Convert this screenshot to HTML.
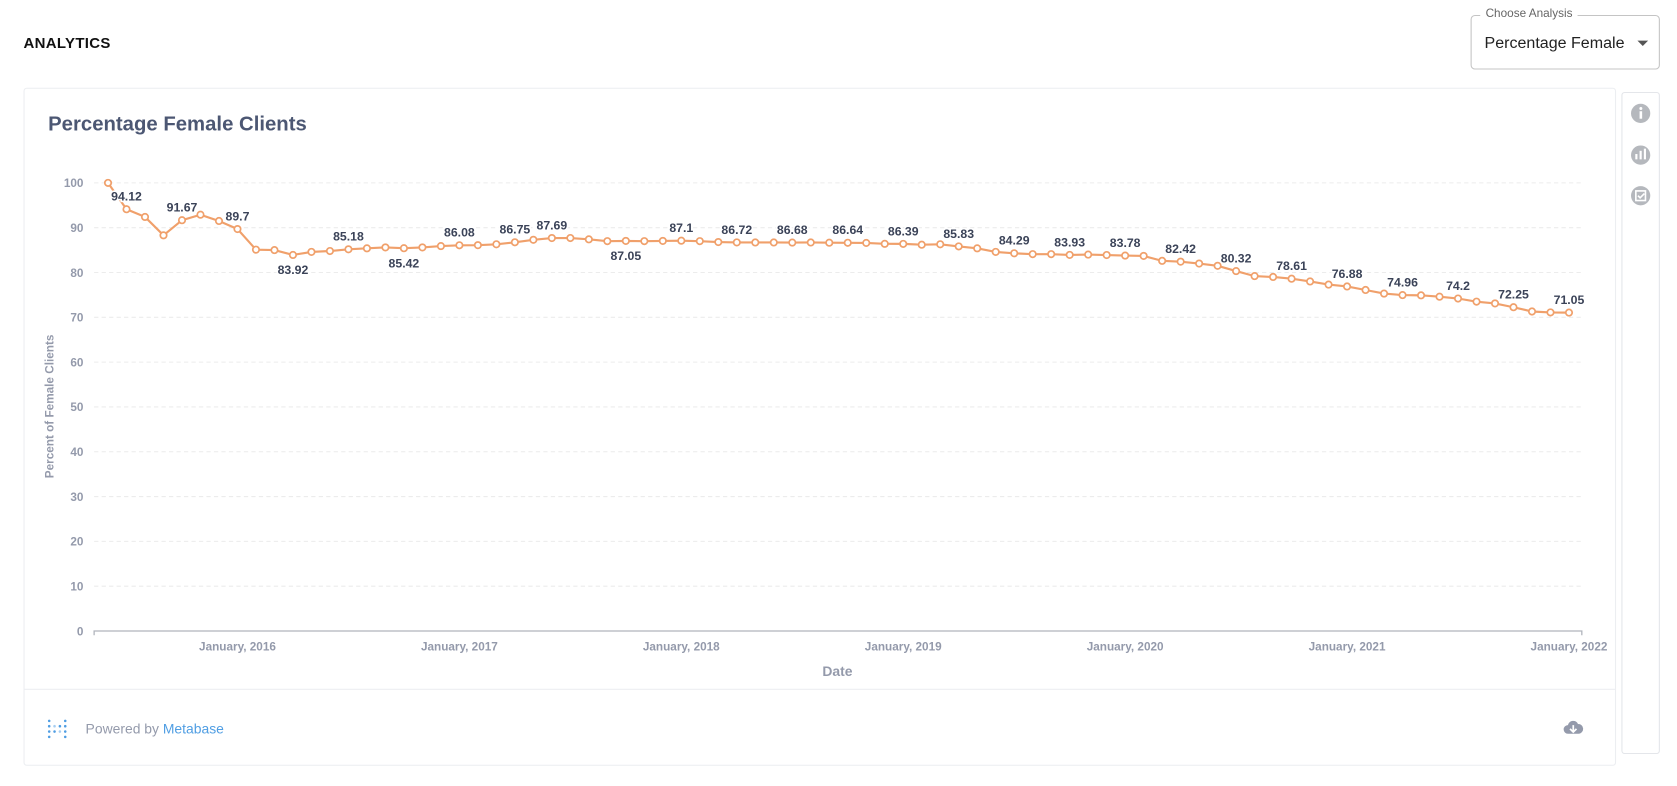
<!DOCTYPE html>
<html><head><meta charset="utf-8">
<style>
html,body{margin:0;padding:0;background:#fff;overflow:hidden;width:1677px;height:786px}
#wrap{position:absolute;left:0;top:0;width:1568px;height:735px;transform:scale(1.06952);transform-origin:0 0;font-family:"Liberation Sans",sans-serif}
.abs{position:absolute}
</style></head>
<body>
<div id="wrap">
  <div class="abs" style="left:22px;top:32px;font-size:14px;font-weight:bold;color:#111;letter-spacing:0.3px">ANALYTICS</div>
  <div class="abs" style="left:1375px;top:14px;width:177px;height:51px;border:1px solid #c4c4c4;border-radius:4px;box-sizing:border-box">
    <div class="abs" style="left:8px;top:-8px;background:#fff;padding:0 5px;font-size:11px;color:#666">Choose Analysis</div>
    <div class="abs" style="left:12px;top:17px;font-size:15px;color:#222">Percentage Female</div>
    <div class="abs" style="left:155px;top:23px;width:0;height:0;border-left:5px solid transparent;border-right:5px solid transparent;border-top:5px solid #555"></div>
  </div>
  <div class="abs" style="left:22px;top:82px;width:1489px;height:634px;border:1px solid #eceef1;box-sizing:border-box;border-radius:3px"></div>
  <div class="abs" style="left:22px;top:644px;width:1489px;height:1px;background:#eceef1"></div>
  <div class="abs" style="left:1516px;top:86px;width:36px;height:619px;border:1px solid #e4e6ea;box-sizing:border-box;border-radius:3px"></div>
  <svg class="abs" style="left:1524px;top:96px" width="22" height="100">
    <g><circle cx="10" cy="10" r="9" fill="#b5b8bd"/><rect x="9" y="8" width="2.4" height="7" fill="#fff"/><circle cx="10.2" cy="5.5" r="1.4" fill="#fff"/></g>
    <g><circle cx="10" cy="49" r="9" fill="#b5b8bd"/><rect x="5" y="48" width="2" height="5" fill="#fff"/><rect x="9" y="45" width="2" height="8" fill="#fff"/><rect x="13" y="43" width="2" height="10" fill="#fff"/></g>
    <g><circle cx="10" cy="87" r="9" fill="#b5b8bd"/><rect x="5.5" y="82.5" width="9" height="9" fill="none" stroke="#fff" stroke-width="1.5"/><path d="M7.5 87l2 2 4-4" stroke="#fff" stroke-width="1.5" fill="none"/></g>
  </svg>
  <div class="abs" style="left:45px;top:106px;font-size:19px;font-weight:bold;color:#4c5773">Percentage Female Clients</div>
  <svg id="chart" class="abs" style="left:0;top:0" width="1568" height="735"></svg>
  <svg class="abs" style="left:44px;top:672px" width="22" height="20">
    <g fill="#509ee3">
      <circle cx="2" cy="2" r="1.2"/><circle cx="2" cy="7" r="1.2"/><circle cx="2" cy="12" r="1.2"/><circle cx="2" cy="17" r="1.2"/>
      <circle cx="7" cy="7" r="1.2" opacity=".5"/><circle cx="7" cy="12" r="1.2"/><circle cx="12" cy="12" r="1.2" opacity=".5"/><circle cx="12" cy="7" r="1.2"/>
      <circle cx="17" cy="2" r="1.2"/><circle cx="17" cy="7" r="1.2"/><circle cx="17" cy="12" r="1.2"/><circle cx="17" cy="17" r="1.2"/>
    </g>
  </svg>
  <div class="abs" style="left:80px;top:674px;font-size:13px;color:#949aab">Powered by <span style="color:#509ee3">Metabase</span></div>
  <svg class="abs" style="left:1461px;top:672px" width="20" height="18">
    <path d="M5 14a4 4 0 0 1 0-8 5 5 0 0 1 9.5-1A4 4 0 0 1 15 14z" fill="#949aab"/><path d="M10 6v6M7 9.5l3 3 3-3" stroke="#fff" stroke-width="1.6" fill="none"/>
  </svg>
</div>
<script>
const values = [100,94.12,92.4,88.3,91.67,92.9,91.5,89.7,85.1,85.0,83.92,84.6,84.8,85.18,85.4,85.6,85.42,85.6,85.9,86.08,86.1,86.3,86.75,87.3,87.69,87.7,87.4,87.0,87.05,87.0,87.05,87.1,
87.0,86.8,86.72,86.7,86.7,86.68,86.7,86.65,86.64,86.6,86.4,86.39,86.2,86.3,85.83,85.4,84.6,84.29,84.1,84.1,83.93,84.0,83.9,83.78,83.7,82.6,82.42,82.0,81.5,80.32,79.2,79.0,78.61,78.0,77.3,76.88,76.1,75.3,74.96,74.9,74.6,74.2,73.5,73.1,72.25,71.3,71.1,71.05];
const startMonth = [2015, 5]; // June 2015 (month index 5)
const labelIdx = [1,4,7,10,13,16,19,22,24,28,31,34,37,40,43,46,49,52,55,58,61,64,67,70,73,76,79];
const labelBelowIdx = [10,16,28];
const yTicks = [0,10,20,30,40,50,60,70,80,90,100];
const xTickYears = [2016,2017,2018,2019,2020,2021,2022];

const svg = document.getElementById('chart');
const NS = 'http://www.w3.org/2000/svg';
const X0 = 88, X1 = 1479, Y0 = 590, Y100 = 171;
const pxPerMonth = (1467-101)/79;
const monthIdx = (y,m)=> (y-startMonth[0])*12 + (m-startMonth[1]);
const xScale = mi => 101 + mi*pxPerMonth;
const yScale = v => Y0 - (v/100)*(Y0-Y100);
function mk(tag, attrs){const e=document.createElementNS(NS,tag);for(const k in attrs)e.setAttribute(k,attrs[k]);svg.appendChild(e);return e;}

yTicks.forEach(t=>{
  const y=yScale(t);
  if(t>0){const g=mk('line',{x1:X0,x2:X1,y1:y,y2:y,stroke:'#ececec','stroke-dasharray':'4 3'});
  
  }
  const tx=mk('text',{x:78,y:y+4,'text-anchor':'end','font-size':'11','font-weight':'bold',fill:'#949aab','font-family':'Liberation Sans, sans-serif'});
  tx.textContent=t;
  
  
});
const ax=mk('path',{d:`M${X0} ${Y0+4}V${Y0}H${X1}V${Y0+4}`,stroke:'#b0b4bc',fill:'none','stroke-width':'1.2'});


xTickYears.forEach(yr=>{
  const x=xScale(monthIdx(yr,0));
  const tx=mk('text',{x:x,y:608,'text-anchor':'middle','font-size':'11','font-weight':'bold',fill:'#949aab','font-family':'Liberation Sans, sans-serif'});
  tx.textContent='January, '+yr;
  
  
});
const xt=mk('text',{x:783,y:632,'text-anchor':'middle','font-size':'13','font-weight':'bold',fill:'#949aab','font-family':'Liberation Sans, sans-serif'});
xt.textContent='Date';


const yt=mk('text',{x:0,y:0,transform:'translate(50,380) rotate(-90)','text-anchor':'middle','font-size':'11','font-weight':'bold',fill:'#949aab','font-family':'Liberation Sans, sans-serif'});
yt.textContent='Percent of Female Clients';



const pts=values.map((v,i)=>[xScale(i),yScale(v)]);
const line=mk('polyline',{points:pts.map(p=>p.join(',')).join(' '),fill:'none',stroke:'#f0a06b','stroke-width':'2'});


pts.forEach(p=>{
  const c=mk('circle',{cx:p[0],cy:p[1],r:3,fill:'#fff',stroke:'#f0a06b','stroke-width':'1.6'});
  
  
});
labelIdx.forEach(i=>{
  const below=labelBelowIdx.includes(i);
  const p=pts[i];
  const tx=mk('text',{x:p[0],y:below?p[1]+18:p[1]-8,'text-anchor':'middle','font-size':'11.5','font-weight':'bold',fill:'#3b4358',stroke:'#fff','stroke-width':'3','paint-order':'stroke','font-family':'Liberation Sans, sans-serif'});
  tx.textContent=values[i];
  
  
});
</script>
</body></html>
